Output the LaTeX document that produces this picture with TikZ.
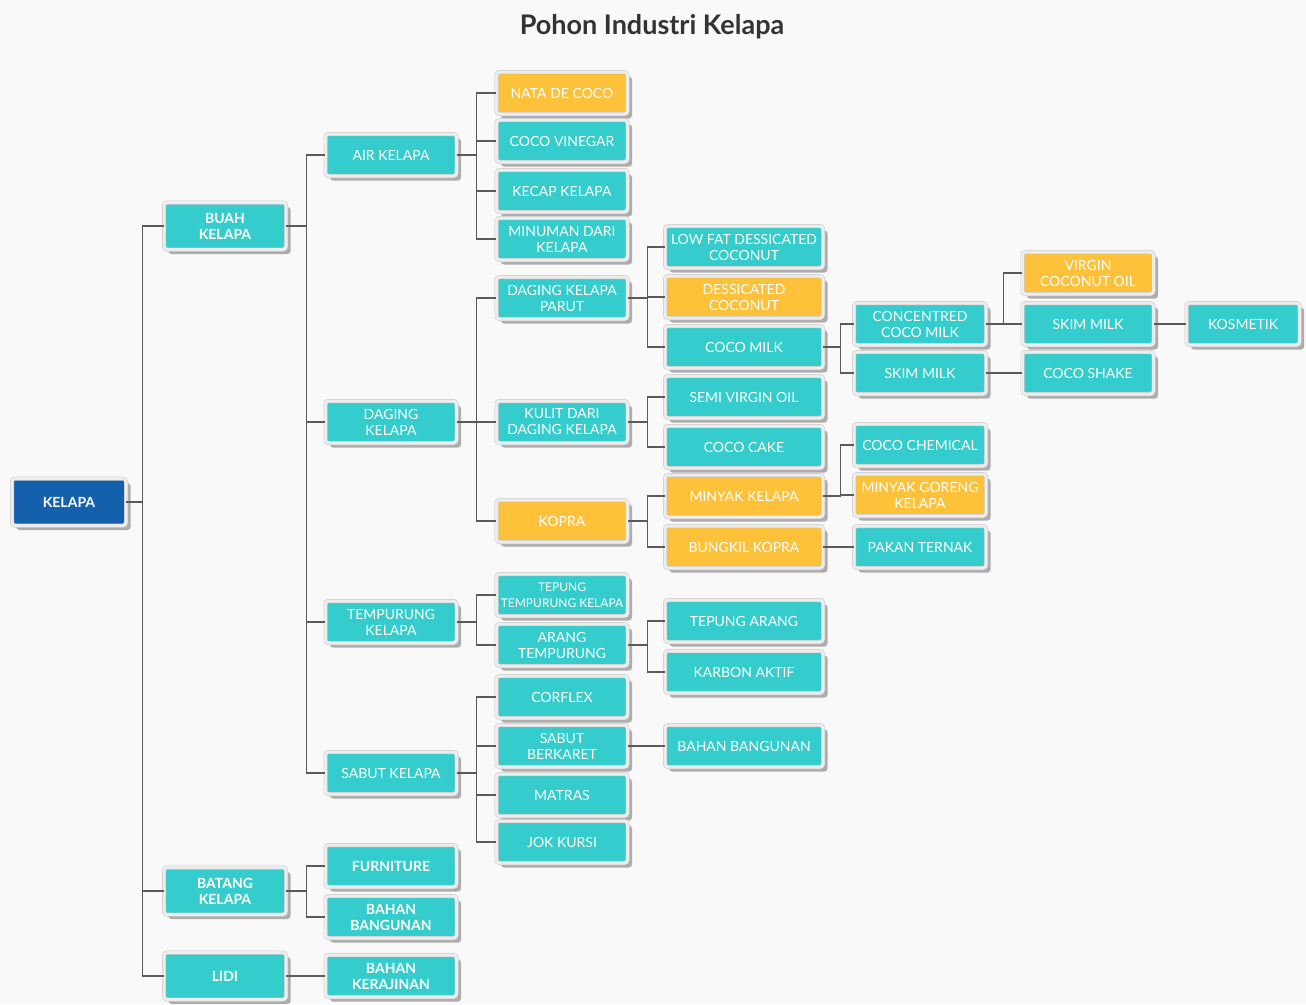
\documentclass[tikz,border=0pt]{standalone}
\usepackage{fontspec}
\setmainfont{Lato}
\usetikzlibrary{shadows}
\definecolor{bgpaper}{RGB}{249,249,249}
\definecolor{boxteal}{RGB}{52,204,204}
\definecolor{boxgold}{RGB}{253,193,58}
\definecolor{boxblue}{RGB}{21,96,173}
\definecolor{linkgray}{RGB}{90,90,90}
\definecolor{titlegray}{RGB}{51,51,51}
\tikzset{
  card/.style={rectangle,rounded corners=3pt,fill=boxteal,text=white,
    draw=black!22,double=black!7,double distance=3pt,line width=0.5pt,
    align=center,inner sep=1pt,font=\fontsize{14}{16}\selectfont,
    drop shadow={shadow xshift=4.5pt,shadow yshift=-4.5pt,fill=black!32,opacity=1}},
  gold/.style={fill=boxgold},
  bold/.style={font=\fontsize{14}{16}\selectfont\bfseries},
  lvA/.style={card,minimum width=114pt,minimum height=47pt,fill=boxblue,bold},
  lvB/.style={card,minimum width=122pt,minimum height=47pt,bold},
  lvC/.style={card,minimum width=131pt,minimum height=42pt},
  lvD/.style={card,minimum width=131pt,minimum height=42pt},
  lvE/.style={card,minimum width=158pt,minimum height=42pt},
  lvF/.style={card,minimum width=132pt,minimum height=42pt},
  lvG/.style={card,minimum width=131pt,minimum height=42pt},
  lvH/.style={card,minimum width=113pt,minimum height=42pt},
  link/.style={draw=linkgray,line width=1.2pt}
}
\begin{document}
\begin{tikzpicture}[x=1pt,y=-1pt]
\useasboundingbox (0,0) rectangle (1306,1004);
\fill[bgpaper] (0,0) rectangle (1306,1004);
\node[font=\fontsize{27}{32}\selectfont\bfseries,text=titlegray] (title) at (652,27) {Pohon Industri Kelapa};

% root and first branch level
\node[lvA] (kelapa) at (69,502) {KELAPA};
\node[lvB] (buah) at (225,226) {BUAH\\KELAPA};
\node[lvB] (batang) at (225,891) {BATANG\\KELAPA};
\node[lvB] (lidi) at (225,976) {LIDI};

% parts of the fruit
\node[lvC] (air) at (391,155) {AIR KELAPA};
\node[lvC] (daging) at (391,422) {DAGING\\KELAPA};
\node[lvC] (tempurung) at (391,622) {TEMPURUNG\\KELAPA};
\node[lvC] (sabut) at (391,773) {SABUT KELAPA};
\node[lvC,bold] (furnitur) at (391,866) {FURNITURE};
\node[lvC,bold] (bangunanA) at (391,917) {BAHAN\\BANGUNAN};
\node[lvC,bold] (kerajinan) at (391,976) {BAHAN\\KERAJINAN};

% third level
\node[lvD,gold] (nata) at (562,93) {NATA DE COCO};
\node[lvD] (vinegar) at (562,141) {COCO VINEGAR};
\node[lvD] (kecap) at (562,191) {KECAP KELAPA};
\node[lvD] (minuman) at (562,239) {MINUMAN DARI\\KELAPA};
\node[lvD] (parut) at (562,298) {DAGING KELAPA\\PARUT};
\node[lvD] (kulit) at (562,422) {KULIT DARI\\DAGING KELAPA};
\node[lvD,gold] (kopra) at (562,521) {KOPRA};
\node[lvD,font=\fontsize{12}{16}\selectfont] (tepungtemp) at (562,595) {TEPUNG\\TEMPURUNG KELAPA};
\node[lvD] (arang) at (562,645) {ARANG\\TEMPURUNG};
\node[lvD] (corflex) at (562,697) {CORFLEX};
\node[lvD] (berkaret) at (562,746) {SABUT\\BERKARET};
\node[lvD] (matras) at (562,795) {MATRAS};
\node[lvD] (jok) at (562,842) {JOK KURSI};

% fourth level
\node[lvE] (lowfat) at (744,247) {LOW FAT DESSICATED\\COCONUT};
\node[lvE,gold] (dessicated) at (744,297) {DESSICATED\\COCONUT};
\node[lvE] (cocomilk) at (744,347) {COCO MILK};
\node[lvE] (semivirgin) at (744,397) {SEMI VIRGIN OIL};
\node[lvE] (cococake) at (744,447) {COCO CAKE};
\node[lvE,gold] (minyak) at (744,496) {MINYAK KELAPA};
\node[lvE,gold] (bungkil) at (744,547) {BUNGKIL KOPRA};
\node[lvE] (tepungarang) at (744,621) {TEPUNG ARANG};
\node[lvE] (karbon) at (744,672) {KARBON AKTIF};
\node[lvE] (bangunanB) at (744,746) {BAHAN BANGUNAN};

% fifth level
\node[lvF] (concentred) at (920,324) {CONCENTRED\\COCO MILK};
\node[lvF] (skimA) at (920,373) {SKIM MILK};
\node[lvF] (chemical) at (920,445) {COCO CHEMICAL};
\node[lvF,gold] (goreng) at (920,495) {MINYAK GORENG\\KELAPA};
\node[lvF] (pakan) at (920,547) {PAKAN TERNAK};

% sixth and seventh level
\node[lvG,gold] (vco) at (1088,273) {VIRGIN\\COCONUT OIL};
\node[lvG] (skimB) at (1088,324) {SKIM MILK};
\node[lvG] (shake) at (1088,373) {COCO SHAKE};
\node[lvH] (kosmetik) at (1243,324) {KOSMETIK};

% connectors
\foreach \kid in {buah,batang,lidi}
  \draw[link] (kelapa.east) -- +(16,0) |- (\kid.west);
\foreach \kid in {air,daging,tempurung,sabut}
  \draw[link] (buah.east) -- +(20,0) |- (\kid.west);
\foreach \kid in {furnitur,bangunanA}
  \draw[link] (batang.east) -- +(20,0) |- (\kid.west);
\draw[link] (lidi.east) -- (kerajinan.west);
\foreach \kid in {nata,vinegar,kecap,minuman}
  \draw[link] (air.east) -- +(20,0) |- (\kid.west);
\foreach \kid in {parut,kulit,kopra}
  \draw[link] (daging.east) -- +(20,0) |- (\kid.west);
\foreach \kid in {tepungtemp,arang}
  \draw[link] (tempurung.east) -- +(20,0) |- (\kid.west);
\foreach \kid in {corflex,berkaret,matras,jok}
  \draw[link] (sabut.east) -- +(20,0) |- (\kid.west);
\foreach \kid in {lowfat,dessicated,cocomilk}
  \draw[link] (parut.east) -- +(20,0) |- (\kid.west);
\foreach \kid in {semivirgin,cococake}
  \draw[link] (kulit.east) -- +(20,0) |- (\kid.west);
\foreach \kid in {minyak,bungkil}
  \draw[link] (kopra.east) -- +(20,0) |- (\kid.west);
\foreach \kid in {tepungarang,karbon}
  \draw[link] (arang.east) -- +(20,0) |- (\kid.west);
\draw[link] (berkaret.east) -- (bangunanB.west);
\foreach \kid in {concentred,skimA}
  \draw[link] (cocomilk.east) -- +(17,0) |- (\kid.west);
\foreach \kid in {chemical,goreng}
  \draw[link] (minyak.east) -- +(17,0) |- (\kid.west);
\draw[link] (bungkil.east) -- (pakan.west);
\foreach \kid in {vco,skimB}
  \draw[link] (concentred.east) -- +(17,0) |- (\kid.west);
\draw[link] (skimA.east) -- (shake.west);
\draw[link] (skimB.east) -- (kosmetik.west);
\end{tikzpicture}
\end{document}
